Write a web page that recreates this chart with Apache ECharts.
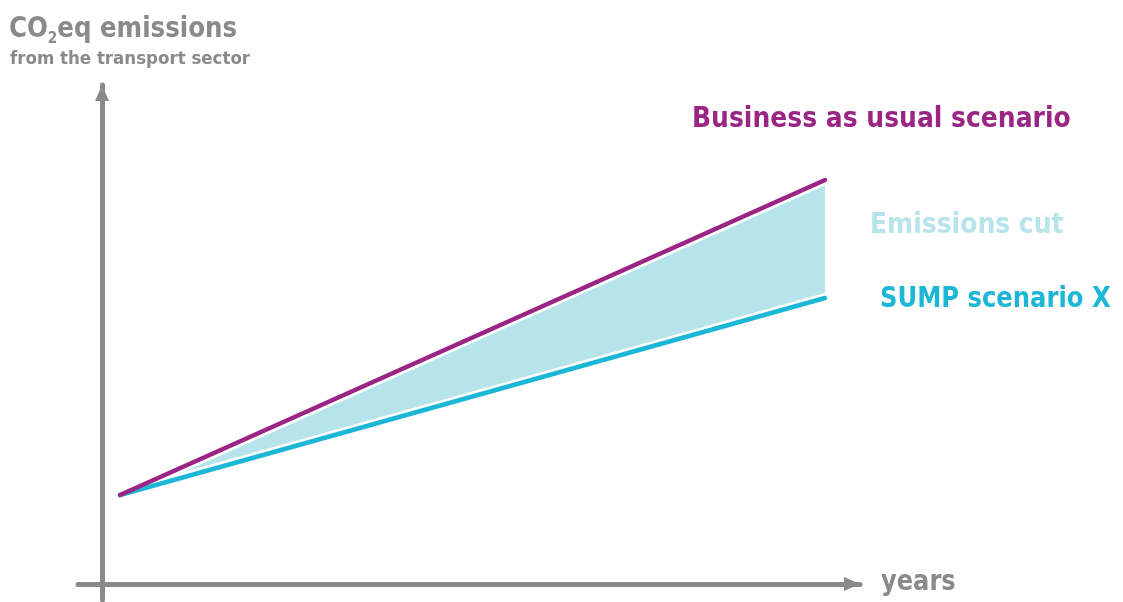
<!DOCTYPE html>
<html><head><meta charset="utf-8">
<script src="https://cdn.jsdelivr.net/npm/echarts@6/dist/echarts.min.js"></script>
<style>html,body{margin:0;padding:0;background:#fff}#c{width:1123px;height:602px}</style>
</head><body><div id="c"></div>
<script>
const years = [18, 723];
const bauValues = [89, 404];
const sumpValues = [89, 286];
const FONT = '"Liberation Sans Narrow", "DejaVu Sans Condensed", "Roboto", sans-serif';
const GRAY = '#8a8a8a', PURPLE = '#9b2584', CYAN = '#1cb6d7', FILL = '#b7e4ea';

const pairs = a => years.map((x, i) => [x, a[i]]);

const chart = echarts.init(document.getElementById('c'), null, {renderer: 'canvas'});
chart.setOption({
  animation: false,
  grid: {left: 78, right: 263, top: 85, bottom: 2},
  xAxis: {type: 'value', min: -24, max: 758, splitLine: {show: false}, axisTick: {show: false}, axisLabel: {show: false},
    axisLine: {onZero: true, lineStyle: {color: GRAY, width: 5}, symbol: ['none', 'triangle'], symbolSize: [14, 16], symbolOffset: [0, -8]}},
  yAxis: {type: 'value', min: -16, max: 499, splitLine: {show: false}, axisTick: {show: false}, axisLabel: {show: false},
    axisLine: {onZero: true, lineStyle: {color: GRAY, width: 5}, symbol: ['none', 'triangle'], symbolSize: [14, 16], symbolOffset: [0, -8]}},
  series: [
    {type: 'custom', data: years.map((x, i) => [x, bauValues[i], sumpValues[i]]), z: 1, silent: true,
      renderItem: function (params, api) {
        if (params.dataIndex !== 0) return null;
        const top = years.map((x, i) => api.coord([x, bauValues[i]]));
        const bot = years.map((x, i) => api.coord([x, sumpValues[i]])).reverse();
        return {type: 'polygon', shape: {points: top.concat(bot)}, style: {fill: FILL}};
      }},
    {type: 'line', data: pairs(bauValues), symbol: 'none', lineStyle: {color: '#fff', width: 10, cap: 'round'}, z: 2},
    {type: 'line', data: pairs(sumpValues), symbol: 'none', lineStyle: {color: '#fff', width: 10, cap: 'round'}, z: 2},
    {type: 'line', data: pairs(sumpValues), symbol: 'none', lineStyle: {color: CYAN, width: 4.5, cap: 'round'}, z: 3},
    {type: 'line', data: pairs(bauValues), symbol: 'none', lineStyle: {color: PURPLE, width: 4.5, cap: 'round'}, z: 3}
  ],
  graphic: [
    {type: 'text', left: 9, top: 11, scaleX: 0.94, style: {
      text: '{a|CO}{s|2}{a|eq emissions}',
      rich: {
        a: {fontFamily: FONT, fontWeight: 'bold', fontSize: 29, fill: GRAY, lineHeight: 34},
        s: {fontFamily: FONT, fontWeight: 'bold', fontSize: 16, fill: GRAY, padding: [20, 0, 0, 0], lineHeight: 34}
      }}},
    {type: 'text', left: 10, top: 50, style: {text: 'from the transport sector', fontFamily: FONT, fontWeight: 'bold', fontSize: 18.5, fill: GRAY}},
    {type: 'text', left: 692, top: 105, scaleX: 0.96, style: {text: 'Business as usual scenario', fontFamily: FONT, fontWeight: 'bold', fontSize: 29, fill: PURPLE}},
    {type: 'text', left: 870, top: 211, scaleX: 0.96, style: {text: 'Emissions cut', fontFamily: FONT, fontWeight: 'bold', fontSize: 29, fill: FILL}},
    {type: 'text', left: 880, top: 285, scaleX: 0.93, style: {text: 'SUMP scenario X', fontFamily: FONT, fontWeight: 'bold', fontSize: 29, fill: CYAN}},
    {type: 'text', left: 881, top: 568, scaleX: 0.925, style: {text: 'years', fontFamily: FONT, fontWeight: 'bold', fontSize: 29, fill: GRAY}}
  ]
});
</script></body></html>
